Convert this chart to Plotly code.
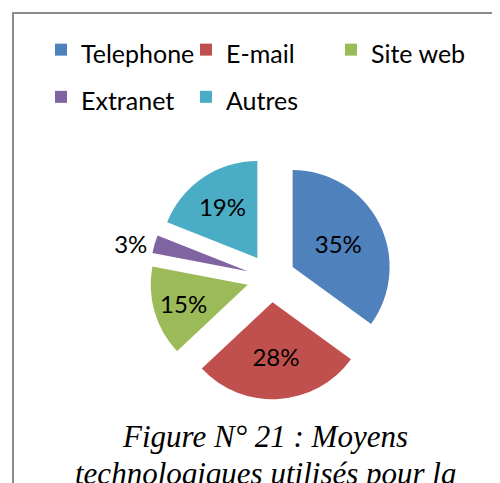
import plotly.graph_objects as go

labels = ["Telephone", "E-mail", "Site web", "Extranet", "Autres"]
values = [35, 28, 15, 3, 19]
colors = ["#4F81BD", "#C0504D", "#9BBB59", "#8064A2", "#4BACC6"]
text_pos = ["inside", "inside", "inside", "outside", "inside"]
caption_lines = ["Figure N° 21 : Moyens", "technologiques utilisés pour la"]

W, H = 500, 483
OFF = 8  # page body margin
cx, cy, r, pull = 271 - OFF, 278 - OFF, 97, 0.25
half = r * (1 + pull)

legend_labels = ['<span style="font-size:25px">%s</span>' % s for s in labels]

fig = go.Figure(go.Pie(
    labels=legend_labels, values=values, sort=False, direction="clockwise", rotation=0,
    marker=dict(colors=colors, line=dict(width=0)),
    pull=[pull] * len(values),
    textinfo="percent", textposition=text_pos,
    texttemplate="%{percent:.0%}",
    insidetextorientation="horizontal",
    textfont=dict(family="Lato", size=24, color="black"),
    outsidetextfont=dict(family="Lato", size=24, color="black"),
    domain=dict(x=[(cx - half) / W, (cx + half) / W], y=[1 - (cy + half) / H, 1 - (cy - half) / H]),
    hoverinfo="skip",
))

bx = 5  # border position in paper px
annotations = []
for i, line in enumerate(caption_lines):
    annotations.append(dict(text=line, xref="paper", yref="paper", x=257 / W, y=1 - (428 + 37 * i) / H,
                            xanchor="center", yanchor="middle", showarrow=False,
                            font=dict(family="Liberation Serif", size=31, color="black", style="italic")))

fig.update_layout(
    width=W, height=H, margin=dict(l=0, r=0, t=0, b=0),
    paper_bgcolor="white",
    showlegend=True,
    legend=dict(orientation="h", x=0.066, y=0.973, xanchor="left", yanchor="top",
                font=dict(family="Lato", size=34, color="black"),
                entrywidth=100, entrywidthmode="pixels", itemwidth=30, traceorder="normal"),
    shapes=[
        dict(type="line", xref="paper", yref="paper", x0=bx / W, x1=1.05, y0=1 - bx / H, y1=1 - bx / H,
             line=dict(color="#8c8c8c", width=2)),
        dict(type="line", xref="paper", yref="paper", x0=bx / W, x1=bx / W, y0=1 - (bx - 1) / H, y1=-0.05,
             line=dict(color="#8c8c8c", width=2)),
    ],
    annotations=annotations,
)

fig.write_html("out.html")
